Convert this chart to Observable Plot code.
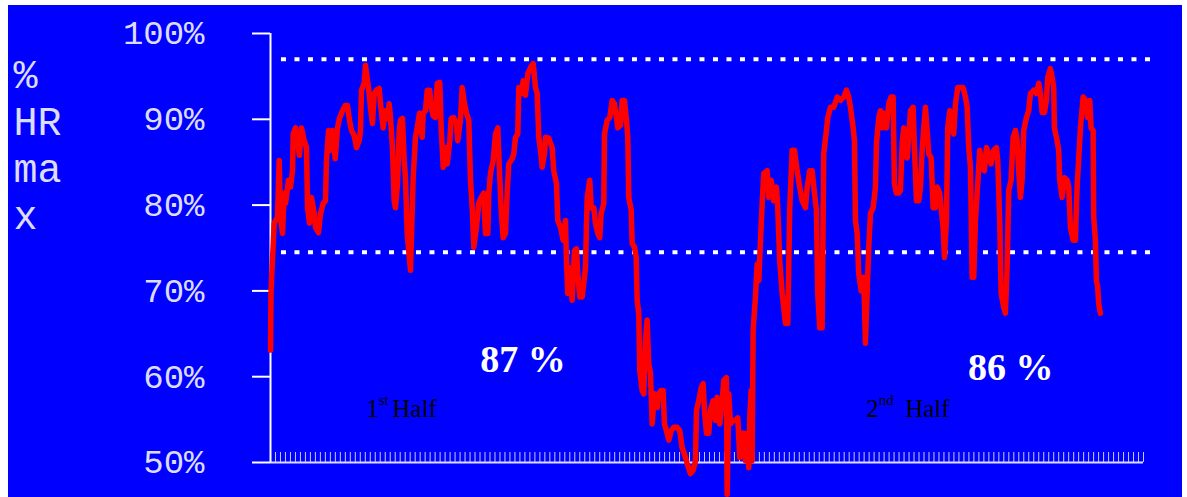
<!DOCTYPE html>
<html><head><meta charset="utf-8">
<script src="https://cdn.jsdelivr.net/npm/d3@7"></script>
<script src="https://cdn.jsdelivr.net/npm/@observablehq/plot@0.6"></script>
<style>
html,body{margin:0;padding:0;background:#fff;}
#chart{position:absolute;left:8px;top:5px;}
</style></head><body><div id="chart"></div>
<script>
// time along the match (axis units, one minor tick per unit)
const minute = [0,0.1,0.2,0.74,1.4,1.74,2,2.41,2.75,3.01,3.61,4.01,4.41,4.55,5.01,5.41,5.81,6.21,6.75,7.22,7.42,7.82,8.22,8.76,9.02,9.62,10.02,10.56,11.02,11.22,11.63,12.03,12.43,12.97,13.43,13.83,14.43,14.97,15.43,15.83,16.24,16.78,17.24,17.78,18.04,18.24,18.78,19.04,19.64,20.04,20.44,20.79,21.25,21.79,22.05,22.59,22.99,23.45,23.79,24.05,24.45,24.79,25.05,25.46,25.8,26.06,26.46,26.8,27.06,27.4,28.06,28.6,29.06,29.4,29.87,30.41,30.61,31.07,31.41,31.93,32.21,32.61,33.07,33.41,33.93,34.22,34.62,35.08,35.42,35.94,36.22,36.74,37.28,37.54,38.08,38.42,38.89,39.29,39.75,40.09,40.43,40.75,41.29,41.75,42.23,42.75,43.09,43.56,43.76,44.1,44.64,45.1,45.56,45.96,46.24,46.64,47.1,47.44,47.76,48.45,48.77,49.11,49.57,49.77,50.25,50.65,51.11,51.57,52.11,52.66,53.12,53.46,53.78,54.12,54.46,54.92,55.12,55.78,56.46,56.78,57.33,57.59,58.13,58.67,59.13,59.33,59.59,59.99,60.47,60.93,61.33,61.6,62,62.48,62.8,63.14,63.48,64,64.28,64.8,65.14,65.6,66,66.28,66.81,66.95,67.49,68.01,68.49,68.95,69.35,69.61,70.15,70.49,70.95,71.36,71.62,71.82,72.3,72.5,72.96,73.3,73.5,73.82,74.02,74.5,74.82,75.16,75.5,75.82,76.17,76.51,76.97,77.51,77.83,78.31,78.71,78.97,79.37,79.84,80.32,80.84,81.52,82.04,82.52,82.98,83.52,84.18,84.73,85.19,85.39,85.85,86.33,86.73,86.99,87.39,87.85,88.19,88.73,89.2,89.53,90.05,90.54,90.86,91.4,91.54,91.86,92.2,92.74,93.21,93.67,94.07,94.35,94.87,95.21,95.55,95.87,96.07,96.35,96.55,96.75,97.21,97.55,97.88,98.22,98.56,98.88,99.56,99.88,100.36,100.88,101.42,101.68,102.08,102.57,103.23,103.69,104.09,104.57,105.03,105.57,106.09,106.57,107.24,107.58,108.1,108.58,109.04,109.44,109.7,110.1,110.58,110.9,111.44,111.71,112.25,112.91,113.59,114.25,114.92,115.45,115.91,116.26,116.8,117.06,117.26,117.6,117.92,118.4,118.92,119.26,119.6,119.92,120.27,120.81,121.27,121.47,121.93,122.27,122.61,122.93,123.47,123.93,124.41,124.81,125.07,125.47,125.94,126.28,126.62,126.94,127.28,127.62,127.94,128.28,128.82,129.08,129.49,129.95,130.29,130.63,130.95,131.29,131.63,131.95,132.43,132.83,133.29,133.63,134.15,134.43,134.83,135.1,135.5,135.76,136.16,136.64,136.96,137.3,137.76,138.3,138.84,139.31,139.65,139.97,140.31,140.65,140.97,141.31,141.77,142.17,142.65,143.11,143.51,143.97,144.45,144.98,145.52,145.78,146.18,146.46,146.98,147.32,147.66,147.98,148.46,148.86,149.33,149.67,149.99,150.33,150.67,150.99,151.53,151.99,152.33,153,153.54,154,154.34,154.68,155.14,155.54,155.8,156.34,156.68,157,157.14,157.68,158,158.2,158.68,159.15,159.69,160.01,160.35,160.89,161.35,161.69,162.02,162.36,162.9,163.36,163.82,164.22,164.5,164.9,165.02,165.36,165.56,165.82,166.02,166.36];
// heart rate, % of HR max
const hrPct = [63.1,69.7,71.2,77.9,78.6,85.2,78.6,76.7,81.4,80.2,82.9,82.1,84.0,88.3,89.0,87.2,85.8,89.0,87.5,86.7,79.7,77.9,80.9,79.0,77.4,76.8,79.0,80.2,80.5,85.2,88.7,86.4,88.7,85.4,89.0,90.1,91.0,91.6,91.6,89.9,88.7,88.1,86.7,87.5,88.7,93.4,94.2,96.3,93.7,91.4,89.5,93.0,93.4,93.6,91.8,89.0,91.0,90.1,91.8,90.2,86.7,80.5,79.7,82.5,88.7,89.9,90.1,85.2,83.2,76.7,72.4,83.2,87.9,89.0,90.7,87.9,90.7,91.0,93.4,93.4,91.4,90.4,90.2,94.2,94.3,89.0,84.4,86.7,84.8,87.5,90.1,90.2,89.5,87.5,89.9,93.7,91.8,90.7,89.9,82.9,79.7,75.1,77.4,80.2,80.9,81.4,76.7,76.7,81.4,83.7,85.2,88.3,89.0,83.2,79.4,76.2,76.7,81.4,84.8,85.4,86.0,87.9,88.3,93.7,93.0,94.5,92.8,95.3,96.0,96.5,93.7,93.0,87.9,86.4,84.4,86.0,87.9,87.8,86.7,84.0,82.5,78.2,77.4,75.9,78.2,73.5,69.7,72.7,68.9,74.7,74.9,72.0,69.3,69.3,70.9,72.7,80.9,82.9,79.7,79.7,77.9,76.7,76.2,79.0,80.2,88.3,89.9,90.2,92.2,91.8,90.2,89.0,89.3,92.2,92.2,89.9,87.9,80.9,79.4,75.5,75.1,73.9,68.9,67.4,60.7,58.4,58.0,64.2,66.6,61.5,60.4,54.5,58.0,56.4,58.0,58.4,58.4,54.5,53.7,52.6,53.7,54.1,54.1,53.7,51.7,51.0,49.9,48.7,49.1,50.2,56.1,57.2,58.7,59.2,56.1,53.4,53.4,56.1,57.2,54.9,57.6,54.5,57.2,59.6,59.9,46.3,58.0,54.5,54.9,54.9,55.2,50.6,53.4,53.4,50.2,53.4,49.4,55.2,58.4,50.2,65.4,69.3,73.1,71.2,75.9,80.2,83.7,84.0,80.9,82.9,80.5,82.1,79.7,73.5,69.7,66.2,66.2,79.7,86.4,86.4,84.0,82.1,80.5,79.7,82.1,84.0,84.0,81.4,79.4,69.7,65.7,65.7,86.0,88.7,90.2,91.4,91.4,92.6,92.2,92.6,93.4,92.6,91.4,89.0,87.5,78.2,76.7,72.0,70.0,71.6,63.9,69.7,75.1,79.0,79.7,82.1,87.2,90.2,91.0,89.0,90.7,89.0,91.8,92.6,92.6,82.5,81.4,81.4,81.7,87.2,89.0,86.0,85.5,87.9,91.0,91.4,86.7,80.5,80.5,82.1,86.4,89.0,91.4,88.7,86.0,85.5,79.7,79.7,82.1,81.4,79.7,77.4,73.9,78.2,89.0,91.0,88.7,88.3,91.8,93.7,93.7,93.7,92.6,91.4,86.7,84.4,71.6,71.6,78.2,82.5,86.4,84.4,84.0,86.7,86.0,84.8,86.4,86.7,85.2,78.2,69.7,68.1,67.4,72.7,81.7,82.9,87.9,88.7,87.5,84.0,80.9,82.9,88.7,90.2,91.0,93.0,93.4,93.0,94.2,93.0,90.8,90.8,92.2,94.9,95.9,94.9,93.7,89.0,87.5,86.4,82.9,80.9,83.2,82.9,82.1,77.4,75.9,75.9,82.1,85.5,89.0,92.6,92.2,90.2,92.2,89.0,88.7,78.6,75.9,71.2,70.4,68.5,67.4];

const yTicks = [50, 60, 70, 80, 90, 100];
const yTickLabels = ["50%", "60%", "70%", "80%", "90%", "100%"];
const xTicks = d3.range(1, 176);
const zoneLevels = [97, 74.5];
const zoneSpan = [2.2, 176.4];
const yTitleLines = ["%", "HR", "ma", "x"];
const halfAverages = [
  {label: "87 %", t: 50.6, v: 60.6},
  {label: "86 %", t: 148.4, v: 59.6}
];
const halfLabels = [
  {num: "1", sup: "st", word: "Half", t: 19.2, v: 55.25},
  {num: "2", sup: "nd", word: "Half", t: 119.4, v: 55.25}
];

const n = Math.min(minute.length, hrPct.length);
const hrData = d3.range(n).map(i => ({t: minute[i], v: hrPct[i]}));

const pale = "#dcdcff";
const serif = "Liberation Serif";
const chart = Plot.plot({
  width: 1174, height: 492,
  marginLeft: 262, marginRight: 39, marginTop: 28, marginBottom: 35,
  style: {background: "#0000ff", overflow: "visible"},
  x: {domain: [0, 175], axis: null},
  y: {domain: [50, 100], axis: null},
  marks: [
    Plot.ruleY(zoneLevels, {x1: zoneSpan[0], x2: zoneSpan[1], stroke: "white", strokeWidth: 4, strokeDasharray: "5,8.5"}),
    Plot.ruleX(xTicks, {y1: 50, y2: 50, insetTop: -10, stroke: "#c8c8ff", strokeWidth: 1}),
    Plot.ruleY([50], {stroke: pale, strokeWidth: 2}),
    Plot.axisY(yTicks, {label: null, tickSize: 18, tickPadding: 48, tickFormat: d => yTickLabels[yTicks.indexOf(d)],
      stroke: "white", strokeWidth: 2, fill: pale, fontSize: 34, fontFamily: "Liberation Mono"}),
    Plot.ruleX([0], {stroke: "white", strokeWidth: 2}),
    Plot.line(hrData, {x: "t", y: "v", stroke: "#ff0000", strokeWidth: 5.5, strokeLinejoin: "round"}),
    Plot.text([yTitleLines.join("\n")], {frameAnchor: "top-left", dx: -257, dy: 195, textAnchor: "start",
      lineAnchor: "bottom", lineHeight: 1.17, fontSize: 40, fontFamily: "Liberation Mono", fill: pale}),
    Plot.text(halfAverages, {x: "t", y: "v", text: "label", fontSize: 38, fontWeight: "bold",
      fontFamily: serif, fill: "white", lineAnchor: "bottom"}),
    Plot.text(halfLabels, {x: "t", y: "v", text: "num", textAnchor: "start", lineAnchor: "bottom",
      fontSize: 25, fontFamily: serif, fill: "black"}),
    Plot.text(halfLabels, {x: "t", y: "v", text: "sup", textAnchor: "start", lineAnchor: "bottom",
      dx: 12.5, dy: -12, fontSize: 15, fontFamily: serif, fill: "black"}),
    Plot.text(halfLabels.slice(0, 1), {x: "t", y: "v", text: "word", textAnchor: "start", lineAnchor: "bottom",
      dx: 26, fontSize: 25, fontFamily: serif, fill: "black"}),
    Plot.text(halfLabels.slice(1), {x: "t", y: "v", text: "word", textAnchor: "start", lineAnchor: "bottom",
      dx: 39, fontSize: 25, fontFamily: serif, fill: "black"})
  ]
});
document.getElementById("chart").appendChild(chart);
</script></body></html>
